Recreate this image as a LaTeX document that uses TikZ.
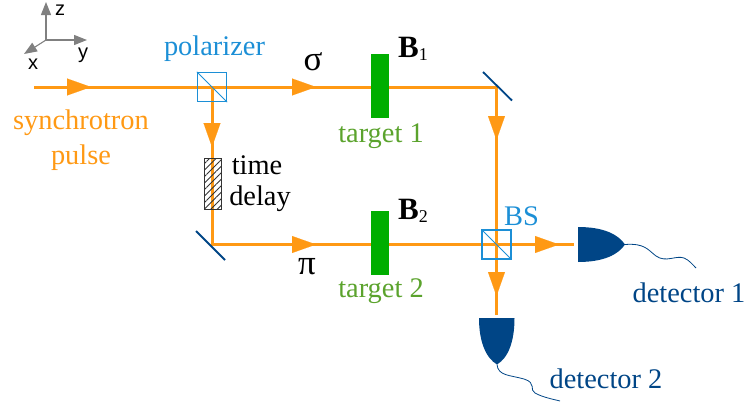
\documentclass[tikz,border=0pt]{standalone}
\usepackage{fontspec}
\usepackage{tikz}
\usetikzlibrary{arrows.meta,patterns.meta}
\setmainfont{Liberation Serif}
\setsansfont{Liberation Sans}
\definecolor{beamcol}{HTML}{FF9914}
\definecolor{optcol}{HTML}{1C8FD6}
\definecolor{navycol}{HTML}{004586}
\definecolor{targetcol}{HTML}{00AE00}
\definecolor{labelgreen}{HTML}{5BA32D}
\newcommand{\fieldB}[1]{{\bfseries B}\raisebox{-3pt}{\fontsize{18}{18}\selectfont #1}}
\tikzset{
  txt/.style = {font=\fontsize{28.4}{32}\selectfont, inner sep=0pt},
  axis/.style = {draw=gray, line width=1.1pt, -{Triangle[length=13pt,width=10pt]}},
  axlabel/.style = {font=\sffamily\fontsize{20}{22}\selectfont, inner sep=0pt},
  beam/.style = {draw=beamcol, line width=3pt},
  beamtip/.style = {draw=beamcol, line width=0.1pt, -{Triangle[length=24pt,width=17pt,fill=beamcol]}},
  splitter/.style = {draw=optcol, line width=1.3pt, minimum size=29pt, inner sep=0pt},
  mirror/.style = {draw=navycol, line width=1.8pt},
  target/.style = {fill=targetcol, minimum width=18pt, minimum height=64pt, inner sep=0pt},
  wire/.style = {draw=navycol, line width=0.8pt}
}
\begin{document}
\begin{tikzpicture}[x = 1pt, y = -1pt]
\useasboundingbox (0,0) rectangle (745,407);
% axes
\coordinate (o) at (46,40);
\coordinate (zend) at (46,2);
\coordinate (yend) at (87,40);
\coordinate (xend) at (24,54);
\draw[axis] (o) -- (zend);
\draw[axis] (o) -- (yend);
\draw[axis] (o) -- (xend);
\node[axlabel] (zlabel) at (60,10) {z};
\node[axlabel] (ylabel) at (83,55) {y};
\node[axlabel] (xlabel) at (33,64) {x};
% beam
\coordinate (start) at (34,87);
\coordinate (pol) at (212,87);
\coordinate (m1) at (496.5,87);
\coordinate (m2) at (212,244.5);
\coordinate (bs) at (496.5,244.5);
\coordinate (d1in) at (574,244.5);
\coordinate (d2in) at (496.5,315);
\draw[beam] (start) -- (m1) -- (d2in);
\draw[beam] (pol) -- (m2) -- (bs) -- (d1in);
\foreach \a/\b/\c/\d in {66/87/91/87, 292/87/316/87, 290/244.5/316/244.5, 532/244.5/559/244.5, 212/118/212/147, 496.5/117/496.5/140, 496.5/273/496.5/296}
{
	\draw[beamtip] (\a,\b) -- (\c,\d);
}
% optics
\node[splitter] (polbox) at (pol) {};
\draw[draw=optcol, line width=0.8pt] (polbox.north west) -- (polbox.south east);
\node[splitter] (bsbox) at (bs) {};
\draw[draw=optcol, line width=0.8pt] (bsbox.north west) -- (bsbox.south east);
\node[draw=black!80, line width=0.9pt, pattern={Lines[angle=45,distance=4.6pt,line width=0.9pt]}, pattern color=black!80, minimum width=17pt, minimum height=51pt, inner sep=0pt] (delay) at (212.5,183.5) {};
\coordinate (m1a) at (483,72);
\coordinate (m1b) at (512,100.5);
\coordinate (m2a) at (196,231);
\coordinate (m2b) at (225,260);
\draw[mirror] (m1a) -- (m1b);
\draw[mirror] (m2a) -- (m2b);
\node[target] (target1) at (380,86) {};
\node[target] (target2) at (380,242.5) {};
% detectors
\fill[navycol] (578,227) .. controls (603,227) and (618,234) .. (625,244.5) .. controls (618,255) and (603,262) .. (578,262) -- cycle;
\fill[navycol] (479,318) -- (514.5,318) .. controls (514.5,342) and (508,358) .. (497,364.5) .. controls (486,358) and (479,342) .. (479,318) -- cycle;
\coordinate (det1) at (625,244.5);
\coordinate (det2) at (497,364.5);
\coordinate (w1end) at (696,268);
\coordinate (w2end) at (560,401);
\draw[wire] (det1) .. controls (645,243) and (648,250) .. (656,256) .. controls (666,263) and (676,255) .. (684,258) .. controls (689,260) and (692,264) .. (w1end);
\draw[wire] (det2) .. controls (498,376) and (510,375) .. (524,379) .. controls (537,383) and (529,390) .. (535,393) .. controls (542,397) and (552,399) .. (w2end);
% labels
\node[txt, beamcol] (source) at (81,123) {synchrotron};
\node[txt, beamcol] (pulse) at (81,158) {pulse};
\node[txt, optcol] (pollabel) at (214.5,49) {polarizer};
\node[txt, optcol] (bslabel) at (521.5,216) {BS};
\node[txt] (time) at (257,165) {time};
\node[txt] (delaylabel) at (260,199) {delay};
\node[txt, font=\fontsize{35}{36}\selectfont] (sigma) at (313,62) {σ};
\node[txt, font=\fontsize{35}{36}\selectfont] (pi) at (307,267) {π};
\node[txt, anchor=base west, font=\fontsize{31}{32}\selectfont] (b1) at (398,57) {\fieldB{1}};
\node[txt, anchor=base west, font=\fontsize{31}{32}\selectfont] (b2) at (398,219) {\fieldB{2}};
\node[txt, labelgreen] (t1label) at (381,136) {target 1};
\node[txt, labelgreen] (t2label) at (381,291) {target 2};
\node[txt, navycol] (d1label) at (689,293) {detector 1};
\node[txt, navycol] (d2label) at (606,379) {detector 2};
\end{tikzpicture}
\end{document}
